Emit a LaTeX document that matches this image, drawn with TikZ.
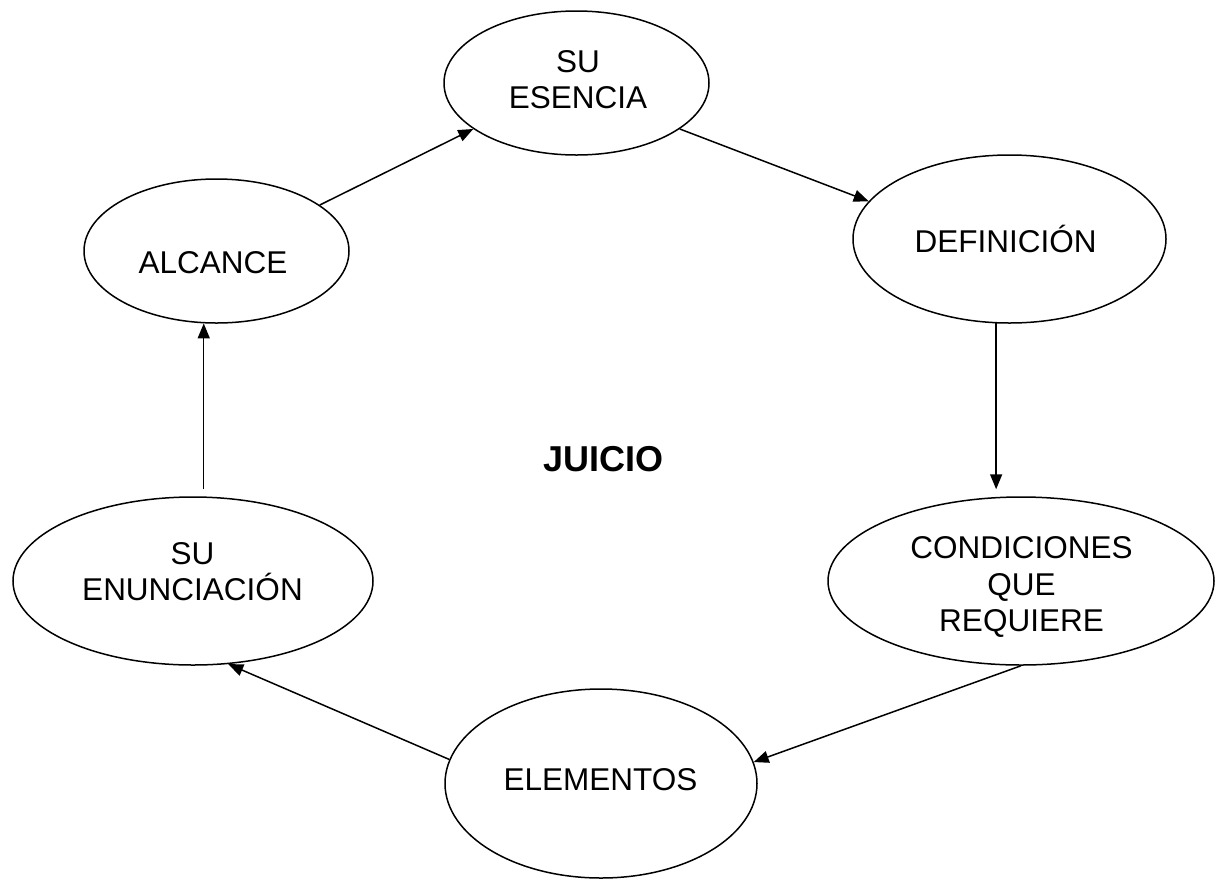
\documentclass[tikz,border=0pt]{standalone}
\usepackage{fontspec}
\setmainfont{Liberation Sans}
\usetikzlibrary{arrows.meta,shapes.geometric}
\begin{document}
\begin{tikzpicture}[x=1pt,y=-1pt,
  oval/.style={draw, ellipse, line width=1.5pt, inner sep=0pt},
  lbl/.style={align=center, inner sep=0pt, font=\fontsize{31.5}{36.3}\selectfont},
  arr/.style={line width=1.5pt, -{Triangle[length=15pt,width=12pt]}}]
\useasboundingbox (0,0) rectangle (1218,879);
\fill[white] (0,0) rectangle (1218,879);
% ellipses
\node[oval, minimum width=265pt, minimum height=144pt] (ese)  at (576.5,83)   {};
\node[oval, minimum width=313pt, minimum height=168pt] (def)  at (1009.5,239) {};
\node[oval, minimum width=265pt, minimum height=144pt] (alc)  at (216.5,251)  {};
\node[oval, minimum width=360pt, minimum height=168pt] (enun) at (193,581)    {};
\node[oval, minimum width=386pt, minimum height=168pt] (cond) at (1021,581)   {};
\node[oval, minimum width=312pt, minimum height=189pt] (elem) at (601,783.5)  {};
% texts
\node[lbl] (eset)  at (578,79.5)    {SU\\ESENCIA};
\node[lbl] (deft)  at (1005.7,239)  {DEFINICIÓN};
\node[lbl] (alct)  at (213,262.5)   {ALCANCE};
\node[lbl] (enunt) at (192.5,571.4) {SU\\ENUNCIACIÓN};
\node[lbl] (condt) at (1021.5,587)  {CONDICIONES\\QUE\\REQUIERE};
\node[lbl] (elemt) at (600.5,780)   {ELEMENTOS};
\node[inner sep=0pt, font=\fontsize{36}{42}\selectfont\bfseries] (juicio) at (603.5,459) {JUICIO};
% connectors
\draw[arr] (alc.24) -- (ese.204);
\draw[arr] (ese.336) -- (def.165);
\draw[arr, shorten >=7pt] (def.261.5) -- (def.261.5 |- cond.north);
\draw[arr] (cond.south) -- (elem.8);
\draw[arr] (elem.171) -- (enun.293.3);
\draw[arr, shorten <=7pt] (alc.260.9 |- enun.north) -- (alc.260.9);
\end{tikzpicture}
\end{document}
